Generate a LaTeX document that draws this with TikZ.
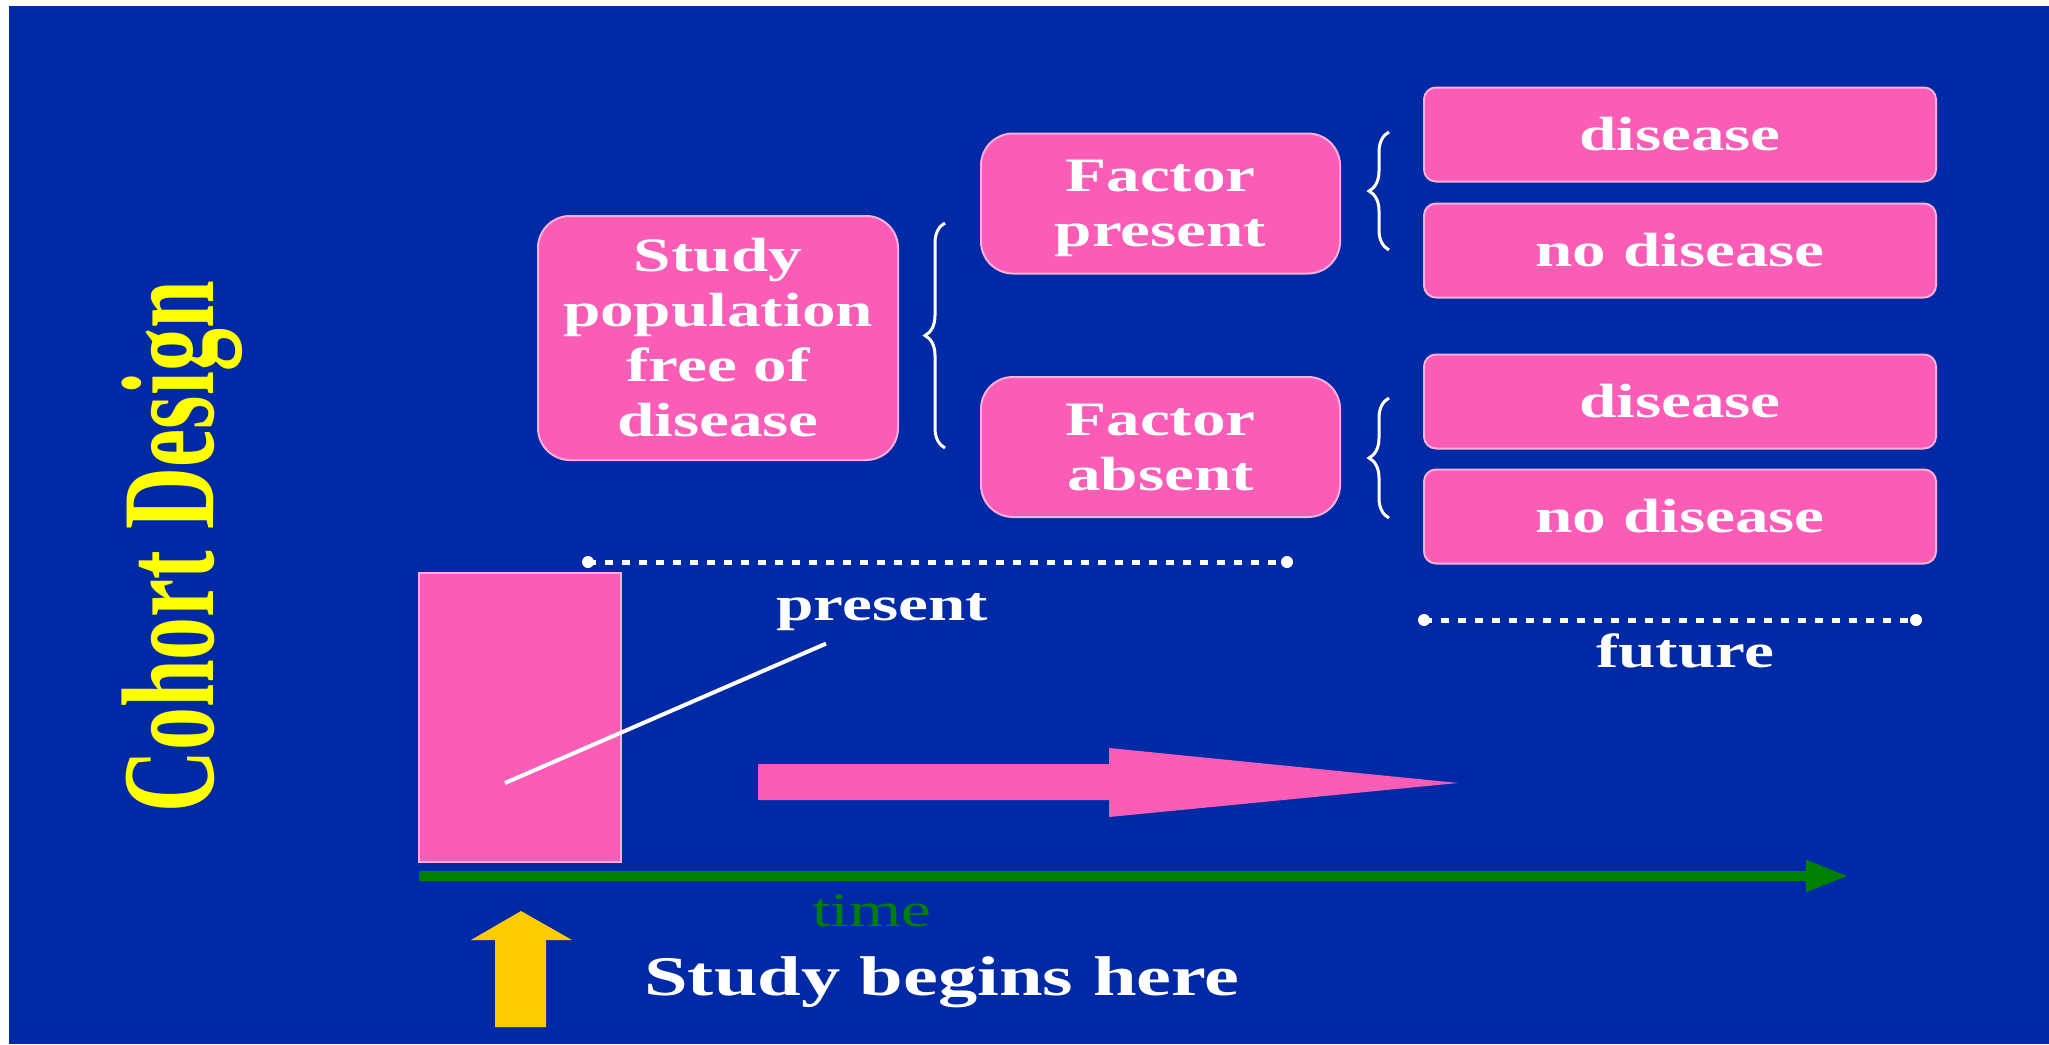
\documentclass[tikz,border=0pt]{standalone}
\usepackage{fontspec}
\setmainfont{Liberation Serif}
\newfontfamily\bodyfont[FakeStretch=1.4]{Liberation Serif}
\newfontfamily\titlefont[FakeStretch=0.65]{Liberation Serif}
\usetikzlibrary{arrows.meta,decorations.pathreplacing,calc}
\definecolor{bgblue}{RGB}{0,41,166}
\definecolor{boxpink}{RGB}{250,92,182}
\definecolor{edgepink}{RGB}{255,175,220}
\definecolor{ttlyellow}{RGB}{255,255,0}
\definecolor{timegreen}{RGB}{0,128,0}
\definecolor{arrowyellow}{RGB}{255,204,0}
\begin{document}
\begin{tikzpicture}[x=0.5pt,y=-0.5pt,
  box/.style={fill=boxpink, draw=edgepink, line width=1pt, rounded corners=16pt, text=white, align=center, font=\bodyfont\bfseries\fontsize{24}{27.5}\selectfont, inner sep=0pt},
  outcome/.style={box, rounded corners=6pt, minimum width=256pt, minimum height=47pt},
  factor/.style={box, minimum width=179.5pt, minimum height=70pt, text depth=0pt},
  lbl/.style={text=white, font=\bodyfont\bfseries\fontsize{24}{27.5}\selectfont, inner sep=0pt},
  bracket/.style={draw=white, line width=1.5pt, decorate, decoration={brace, amplitude=10pt}},
  dots/.style={draw=white, line width=2.5pt, dash pattern=on 4pt off 4.5pt},
  enddot/.style={circle, fill=white, minimum size=6pt, inner sep=0pt}]
\useasboundingbox (0,0) rectangle (2049,1044);
\fill[white] (0,0) rectangle (2049,1044);
\fill[bgblue] (9,6) rectangle (2049,1044);

% title
\node[rotate=90, anchor=base west, inner sep=0pt, text=ttlyellow,
      font=\titlefont\bfseries\fontsize{66}{70}\selectfont] (title) at (213,813) {Cohort Design};

% boxes
\node[box, minimum width=180pt, minimum height=122pt] (study) at (718,338) {Study\\population\\free of\\disease};
\node[factor] (fpres) at (1160.5,203.5) {Factor\\present};
\node[factor] (fabs) at (1160.5,447) {Factor\\absent};
\node[outcome] (d1) at (1680,134.5) {disease};
\node[outcome] (nd1) at (1680,250.5) {no disease};
\node[outcome] (d2) at (1680,401.5) {disease};
\node[outcome] (nd2) at (1680,516.5) {no disease};

% braces
\coordinate (bb0) at (945,448); \coordinate (bb1) at (945,223);
\coordinate (sa0) at (1389,250); \coordinate (sa1) at (1389,132);
\coordinate (sb0) at (1389,518); \coordinate (sb1) at (1389,398);
\draw[bracket] (bb0) -- (bb1);
\draw[bracket] (sa0) -- (sa1);
\draw[bracket] (sb0) -- (sb1);

% dotted time spans
\coordinate (p0) at (588,562); \coordinate (p1) at (1287,562);
\coordinate (f0) at (1424,620); \coordinate (f1) at (1916,620);
\draw[dots] (p0) -- (p1);
\draw[dots] (f0) -- (f1);
\node[enddot] (p0d) at (p0) {};
\node[enddot] (p1d) at (p1) {};
\node[enddot] (f0d) at (f0) {};
\node[enddot] (f1d) at (f1) {};

% present bar and pointer
\node[fill=boxpink, draw=edgepink, line width=1pt, minimum width=101pt, minimum height=144.5pt, inner sep=0pt] (bar) at (520,717.5) {};
\node[lbl, anchor=base] (present) at (882,620) {present};
\coordinate (ptrstart) at (505,783);
\draw[white, line width=2pt] (ptrstart) -- ($(present.south)+(-56,13)$);

\node[lbl, anchor=base] (future) at (1685,667) {future};

% big pink arrow
\fill[boxpink] (758,764) -- (1109,764) -- (1109,748) -- (1458,783) -- (1109,817) -- (1109,800) -- (758,800) -- cycle;

% time axis
\coordinate (t0) at (419,876); \coordinate (t1) at (1849,876);
\draw[timegreen, line width=5pt, -{Triangle[length=21.5pt,width=14.5pt]}] (t0) -- (t1);
\node[font=\bodyfont\fontsize{24}{27.5}\selectfont, text=timegreen, anchor=base, inner sep=0pt] (time) at (872,926) {time};

% yellow arrow
\fill[arrowyellow] (495,1027) -- (495,940) -- (471,940) -- (521,911) -- (572,940) -- (546,940) -- (546,1027) -- cycle;
\node[font=\bodyfont\bfseries\fontsize{28}{32}\selectfont, text=white, anchor=base, inner sep=0pt] (begins) at (942,995) {Study begins here};
\end{tikzpicture}
\end{document}
